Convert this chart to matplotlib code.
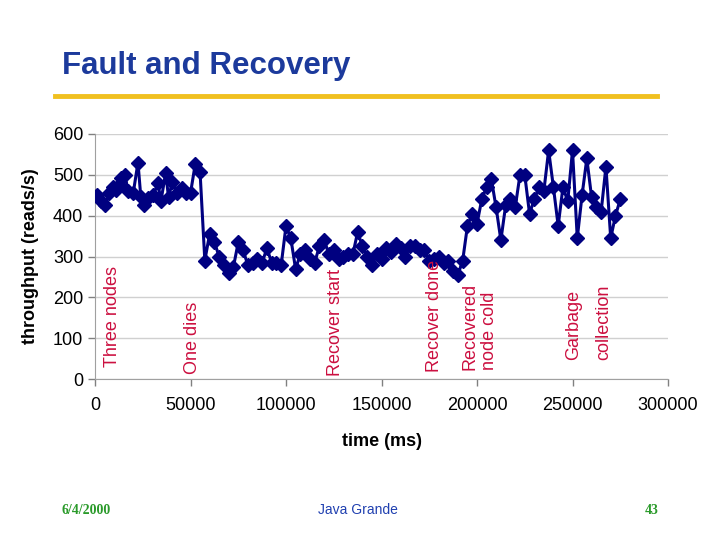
import matplotlib
matplotlib.use("Agg")
import matplotlib.pyplot as plt
from matplotlib.lines import Line2D

plt.rcParams['font.family'] = ['Liberation Sans', 'DejaVu Sans']

time_ms = [
    1000, 3000, 5000, 7500, 9500, 11000, 12500, 13500, 15500, 17500,
    20000, 22500, 24000, 25500, 28000, 30500, 33000, 34500, 37000, 38500,
    40500, 43000, 45500, 47500, 50000, 52500, 55000,
    57500, 60000, 62500, 65000, 67500, 70000, 72500, 75000, 77500, 80000,
    82500, 85000, 87500, 90000, 92500, 95000, 97500, 100000, 102500, 105000,
    107500, 110000, 112500, 115000, 117500, 120000, 122500, 125000, 127500, 130000,
    132500, 135000, 137500, 140000, 142500, 145000, 147500, 150000, 152500, 155000,
    157500, 160000, 162500, 165000, 167500, 170000, 172500, 175000, 177500, 180000,
    182500, 185000, 187500, 190000, 192500, 195000, 197500, 200000, 202500, 205000,
    207500, 210000, 212500, 215000, 217500, 220000, 222500, 225000, 227500, 230000,
    232500, 235000, 237500, 240000, 242500, 245000, 247500, 250000, 252500, 255000,
    257500, 260000, 262500, 265000, 267500, 270000, 272500, 275000,
]
throughput = [
    450, 435, 425, 455, 470, 463, 475, 492, 500, 460,
    455, 530, 445, 425, 443, 450, 480, 435, 505, 445,
    482, 455, 468, 455, 455, 527, 507,
    290, 355, 335, 300, 280, 260, 275, 335, 315, 280,
    285, 295, 285, 320, 285, 285, 280, 375, 345, 270,
    305, 315, 295, 285, 325, 340, 305, 315, 295, 300,
    305, 305, 360, 325, 300, 280, 305, 295, 320, 310,
    330, 320, 300, 325, 325, 315, 315, 290, 295, 300,
    285, 290, 265, 255, 290, 375, 405, 380, 440, 470,
    490, 420, 340, 425, 440, 420, 500, 500, 405, 440,
    470, 460, 560, 470, 375, 470, 435, 560, 345, 450,
    540, 445, 420, 410, 520, 345, 400, 440,
]

event_labels = ["Three nodes", "One dies", "Recover start", "Recover done",
                "Recovered", "node cold", "Garbage", "collection"]
event_x = [9400, 50800, 125700, 177800, 196200, 206300, 250500, 266500]
event_y = [29, 12, 7, 17, 22, 22, 47, 47]

x_ticks = [0, 50000, 100000, 150000, 200000, 250000, 300000]
y_ticks = [0, 100, 200, 300, 400, 500, 600]

fig = plt.figure(figsize=(7.2, 5.4), dpi=100)
fig.patch.set_facecolor('white')

# Title and rule
fig.text(62 / 720, 1 - 66 / 540, "Fault and Recovery", fontsize=22.5,
         fontweight='bold', color='#1c3a9c', ha='left', va='center')
fig.add_artist(Line2D([55 / 720, 657 / 720], [1 - 96 / 540, 1 - 96 / 540],
                      color='#f0c020', lw=3.5, transform=fig.transFigure))

ax = fig.add_axes([95 / 720, 1 - 379 / 540, (668 - 95) / 720, (379 - 134) / 540])
ax.plot(time_ms, throughput, color='#000080', lw=2.2, marker='D',
        markersize=7, markerfacecolor='#000080', markeredgecolor='#000080',
        zorder=3)

ax.set_xlim(0, 300000)
ax.set_ylim(0, 600)
ax.set_xticks(x_ticks)
ax.set_yticks(y_ticks)
ax.set_xticklabels([str(v) for v in x_ticks])
ax.set_yticklabels([str(v) for v in y_ticks])
ax.tick_params(axis='both', labelsize=13, colors='#808080', labelcolor='black',
               direction='out', length=5, width=1)
ax.tick_params(axis='x', pad=8)
ax.yaxis.grid(True, color='#d0d0d0', lw=1)
ax.set_axisbelow(True)
for s in ['top', 'right']:
    ax.spines[s].set_visible(False)
for s in ['left', 'bottom']:
    ax.spines[s].set_color('#a0a0a0')

ax.set_xlabel("time (ms)", fontsize=13, fontweight='bold', labelpad=14)
ax.set_ylabel("throughput (reads/s)", fontsize=13, fontweight='bold', labelpad=10)

for lab, xv, yv in zip(event_labels, event_x, event_y):
    ax.text(xv, yv, lab, rotation=90, ha='center', va='bottom', fontsize=13,
            color='#cc1040', zorder=4)

# Footer
fig.text(62 / 720, 1 - 510 / 540, "6/4/2000", fontsize=10, color='#2a9a2a',
         fontweight='bold', family=['Liberation Serif', 'DejaVu Serif'],
         ha='left', va='center')
fig.text(358 / 720, 1 - 510 / 540, "Java Grande", fontsize=10, color='#2040b0',
         ha='center', va='center')
fig.text(652 / 720, 1 - 510 / 540, "43", fontsize=10, color='#2a9a2a',
         fontweight='bold', family=['Liberation Serif', 'DejaVu Serif'],
         ha='center', va='center')

fig.savefig("out.png", dpi=100, facecolor='white')
